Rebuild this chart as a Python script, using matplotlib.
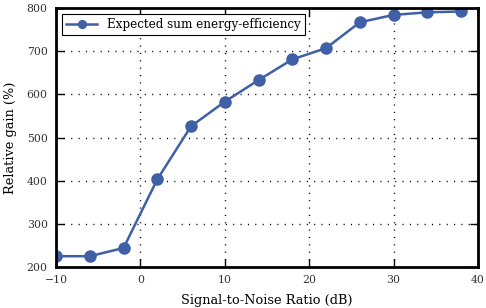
import numpy as np
import matplotlib
matplotlib.use("Agg")
import matplotlib.pyplot as plt

snr_db = [-10, -6, -2, 2, 6, 10, 14, 18, 22, 26, 30, 34, 38]
gain = [225, 225, 244, 403, 526, 583, 633, 681, 707, 767, 784, 790, 792]
label = "Expected sum energy-efficiency"

plt.rcParams["font.family"] = ["DejaVu Serif"]
plt.rcParams["mathtext.fontset"] = "dejavuserif"

fig = plt.figure(figsize=(4.86, 3.08), dpi=100)
ax = fig.add_axes([56 / 486, 1 - 267 / 308, 422 / 486, 259 / 308])
ax.plot(snr_db, gain, "-o", color="#3f5fa6", lw=1.8, ms=8, label=label)
ax.set_xlim(-10, 40)
ax.set_ylim(200, 800)
ax.set_xticks([-10, 0, 10, 20, 30, 40])
ax.set_xticklabels(["\u221210", "0", "10", "20", "30", "40"])
ax.set_yticks(range(200, 801, 100))
ax.grid(True, linestyle=(0, (0.8, 4.5)), color="black", lw=1.0)
ax.tick_params(direction="in", top=True, right=True, length=6, width=1,
               labelsize=7.8, labelcolor="#333333", pad=6)
for s in ax.spines.values():
    s.set_linewidth(2)
ax.set_xlabel("Signal-to-Noise Ratio (dB)", fontsize=9.3, labelpad=6)
ax.set_ylabel("Relative gain (%)", fontsize=9.3, labelpad=7)
leg = ax.legend(loc="upper left", fontsize=8.6, fancybox=False, edgecolor="black",
                framealpha=1, borderaxespad=0.5, handlelength=2.6,
                borderpad=0.35, markerscale=0.7)
leg.get_frame().set_linewidth(0.8)
fig.savefig("out.png", dpi=100)
